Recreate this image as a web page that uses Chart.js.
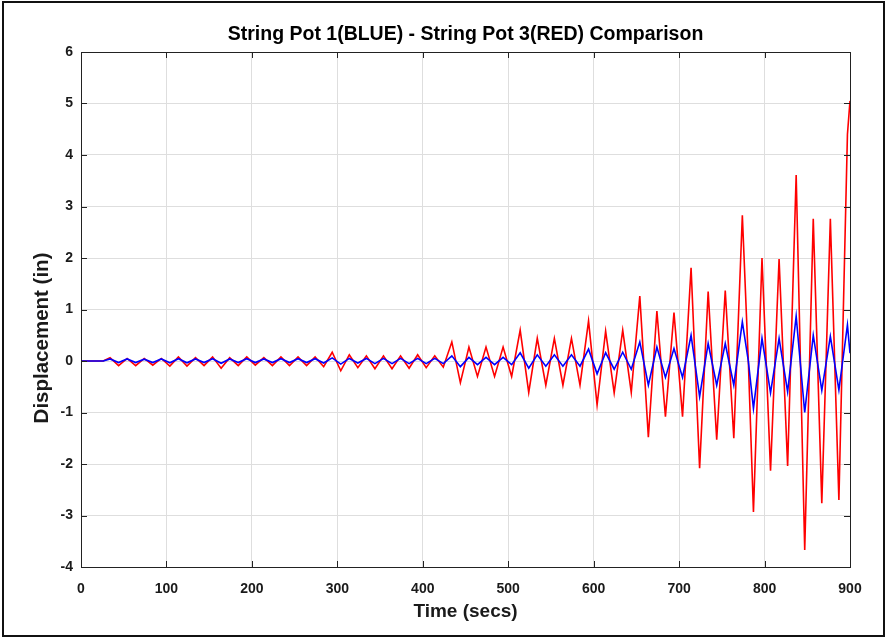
<!DOCTYPE html>
<html>
<head>
<meta charset="utf-8">
<script src="https://cdn.jsdelivr.net/npm/chart.js@4/dist/chart.umd.min.js"></script>
<style>
  html, body { margin: 0; padding: 0; background: #fff; }
</style>
</head>
<body>
<canvas id="grafica" width="886" height="638"></canvas>
<script>
// tiempos (s), picos y valles
const tiempos = [0, 26, 34, 44, 54, 64, 74, 84, 94, 104, 114, 124, 134, 144, 154, 164, 174, 184, 194, 204,
  214, 224, 234, 244, 254, 264, 274, 284, 294, 304, 314, 324, 334, 344, 354, 364, 374, 384, 394, 404,
  414, 424, 434, 444, 454, 464, 474, 484, 494, 504, 514, 524, 534, 544, 554, 564, 574, 584, 594, 604,
  614, 624, 634, 644, 654, 664, 674, 684, 694, 704, 714, 724, 734, 744, 754, 764, 774, 781, 787, 797,
  807, 817, 827, 837, 847, 857, 867, 877, 887, 897, 900];

// String Pot 1 (azul)
const pot1Azul = [0, 0, 0.04, -0.03, 0.04, -0.03, 0.035, -0.03, 0.04, -0.035, 0.045, -0.035, 0.04, -0.03, 0.045, -0.045, 0.04, -0.03, 0.045, -0.03,
  0.04, -0.03, 0.045, -0.03, 0.045, -0.03, 0.045, -0.04, 0.06, -0.06, 0.05, -0.04, 0.05, -0.05, 0.05, -0.05, 0.05, -0.05, 0.05, -0.05,
  0.05, -0.05, 0.1, -0.11, 0.07, -0.07, 0.07, -0.07, 0.07, -0.07, 0.16, -0.14, 0.12, -0.1, 0.12, -0.1, 0.12, -0.1, 0.23, -0.25,
  0.16, -0.16, 0.17, -0.16, 0.37, -0.47, 0.27, -0.32, 0.24, -0.32, 0.5, -0.69, 0.34, -0.47, 0.34, -0.47, 0.76, 0.0, -0.92, 0.44,
  -0.62, 0.44, -0.6, 0.87, -1.0, 0.5, -0.57, 0.48, -0.56, 0.7, 0.15];

// String Pot 3 (rojo)
const pot3Rojo = [0, 0, 0.065, -0.09, 0.05, -0.09, 0.05, -0.08, 0.05, -0.1, 0.08, -0.1, 0.065, -0.09, 0.08, -0.14, 0.065, -0.09, 0.08, -0.08,
  0.065, -0.09, 0.08, -0.09, 0.08, -0.09, 0.08, -0.11, 0.17, -0.19, 0.12, -0.13, 0.1, -0.15, 0.1, -0.15, 0.1, -0.14, 0.12, -0.13,
  0.1, -0.12, 0.37, -0.42, 0.27, -0.3, 0.27, -0.3, 0.27, -0.3, 0.6, -0.61, 0.44, -0.47, 0.44, -0.47, 0.44, -0.47, 0.78, -0.85,
  0.58, -0.62, 0.6, -0.61, 1.26, -1.48, 0.97, -1.08, 0.94, -1.08, 1.81, -2.08, 1.35, -1.53, 1.37, -1.5, 2.83, 0.0, -2.93, 2.0,
  -2.13, 1.98, -2.04, 3.61, -3.67, 2.76, -2.76, 2.76, -2.7, 4.4, 5.05];

const ticksX = [0, 100, 200, 300, 400, 500, 600, 700, 800, 900];
const ticksY = [-4, -3, -2, -1, 0, 1, 2, 3, 4, 5, 6];

const fuente = "'Liberation Sans', Arial, sans-serif";

// fondo blanco, caja de ejes con marcas hacia dentro y marco exterior
const marco = {
  id: 'marco',
  beforeDraw(chart) {
    const ctx = chart.ctx;
    ctx.save();
    ctx.fillStyle = '#fff';
    ctx.fillRect(0, 0, chart.width, chart.height);
    ctx.restore();
  },
  afterDraw(chart) {
    const ctx = chart.ctx;
    const a = chart.chartArea;
    const sx = chart.scales.x, sy = chart.scales.y;
    ctx.save();
    ctx.strokeStyle = '#222';
    ctx.lineWidth = 1;
    ctx.beginPath();
    ticksX.forEach(v => {
      const px = Math.round(sx.getPixelForValue(v)) + 0.5;
      ctx.moveTo(px, a.bottom); ctx.lineTo(px, a.bottom - 6);
      ctx.moveTo(px, a.top); ctx.lineTo(px, a.top + 6);
    });
    ticksY.forEach(v => {
      const py = Math.round(sy.getPixelForValue(v)) + 0.5;
      ctx.moveTo(a.left, py); ctx.lineTo(a.left + 6, py);
      ctx.moveTo(a.right, py); ctx.lineTo(a.right - 6, py);
    });
    ctx.stroke();
    ctx.strokeRect(Math.round(a.left) + 0.5, Math.round(a.top) + 0.5, Math.round(a.right - a.left), Math.round(a.bottom - a.top));
    ctx.strokeStyle = '#111';
    ctx.lineWidth = 2;
    ctx.strokeRect(3, 2, 881, 634);
    ctx.restore();
  }
};

new Chart(document.getElementById('grafica'), {
  type: 'line',
  data: {
    datasets: [
      {
        label: 'String Pot 1',
        data: tiempos.map((t, i) => ({ x: t, y: pot1Azul[i] })),
        borderColor: '#0000ff',
        borderWidth: 1.6,
        pointRadius: 0,
        tension: 0
      },
      {
        label: 'String Pot 3',
        data: tiempos.map((t, i) => ({ x: t, y: pot3Rojo[i] })),
        borderColor: '#ff0000',
        borderWidth: 1.6,
        pointRadius: 0,
        tension: 0
      }
    ]
  },
  options: {
    responsive: false,
    animation: false,
    layout: { padding: { top: 0, right: 36, bottom: 0, left: 0 } },
    plugins: {
      legend: { display: false },
      tooltip: { enabled: false },
      title: {
        display: true,
        fullSize: false,
        text: 'String Pot 1(BLUE) - String Pot 3(RED) Comparison',
        color: '#000',
        font: { family: fuente, size: 19.5, weight: 'bold', lineHeight: 1.2 },
        padding: { top: 23, bottom: 5.6 }
      }
    },
    scales: {
      x: {
        type: 'linear',
        min: 0,
        max: 900,
        afterBuildTicks: s => { s.ticks = ticksX.map(v => ({ value: v })); },
        afterFit: s => { s.height = 71; },
        border: { display: true, color: '#222' },
        grid: { color: '#dedede', drawTicks: false },
        ticks: { padding: 14, color: '#1a1a1a', font: { family: fuente, size: 14, weight: 'bold' }, maxRotation: 0 },
        title: {
          display: true,
          text: 'Time (secs)',
          color: '#1a1a1a',
          font: { family: fuente, size: 19, weight: 'bold', lineHeight: 1.2 },
          padding: { top: 0, bottom: 15 }
        }
      },
      y: {
        type: 'linear',
        min: -4,
        max: 6,
        afterBuildTicks: s => { s.ticks = ticksY.map(v => ({ value: v })); },
        afterFit: s => { s.width = 81; },
        border: { display: true, color: '#222' },
        grid: { color: '#dedede', drawTicks: false },
        ticks: { padding: 8, color: '#1a1a1a', font: { family: fuente, size: 14, weight: 'bold' } },
        title: {
          display: true,
          text: 'Displacement (in)          ',
          color: '#1a1a1a',
          font: { family: fuente, size: 20.5, weight: 'bold', lineHeight: 1.2 },
          padding: { top: 29.7, bottom: 0 }
        }
      }
    }
  },
  plugins: [marco]
});
</script>
</body>
</html>
